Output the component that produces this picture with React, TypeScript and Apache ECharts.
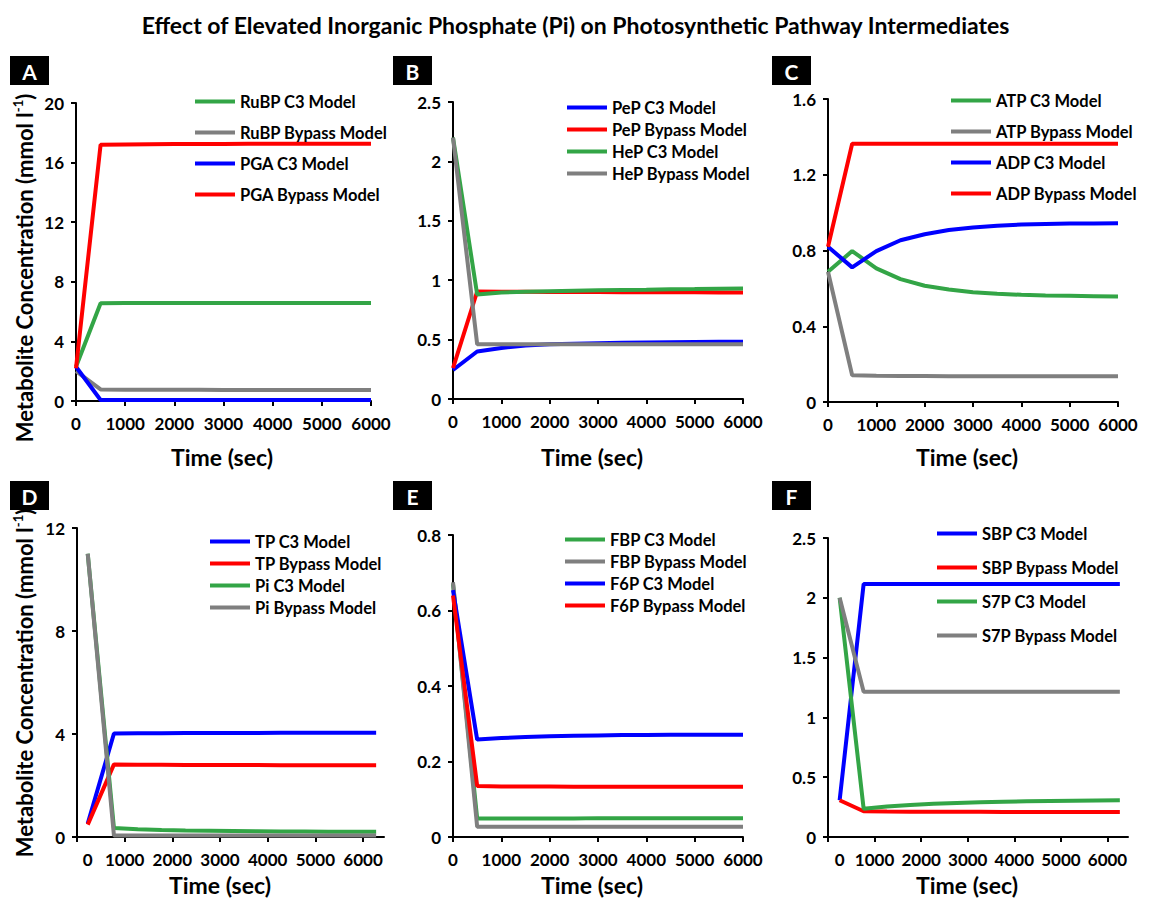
import React, { useEffect, useRef } from "react";
import * as echarts from "echarts";

// ---------- data ----------
const T = [0, 500, 1000, 1500, 2000, 2500, 3000, 3500, 4000, 4500, 5000, 5500, 6000];
const TD = [225, 775, 1275, 1775, 2275, 2775, 3275, 3775, 4275, 4775, 5275, 5775, 6275];
const TF = [250, 765, 1265, 1765, 2265, 2765, 3265, 3765, 4265, 4765, 5265, 5765, 6265];

const xTicks = [0, 1000, 2000, 3000, 4000, 5000, 6000];
const xLabelsD = [225, 1000, 2000, 3000, 4000, 5000, 6000];
const xLabelsF = [250, 1000, 2000, 3000, 4000, 5000, 6000];

// A
const rubpC3 = [2.3, 6.56, 6.57, 6.57, 6.57, 6.58, 6.58, 6.58, 6.58, 6.58, 6.58, 6.58, 6.58];
const rubpBypass = [2.0, 0.78, 0.76, 0.75, 0.75, 0.75, 0.74, 0.74, 0.74, 0.74, 0.74, 0.74, 0.74];
const pgaC3 = [2.3, 0.07, 0.07, 0.07, 0.07, 0.07, 0.07, 0.07, 0.07, 0.07, 0.07, 0.07, 0.07];
const pgaBypass = [2.2, 17.2, 17.22, 17.23, 17.24, 17.25, 17.25, 17.26, 17.26, 17.27, 17.27, 17.27, 17.27];
// B
const pepC3 = [0.244, 0.4, 0.43, 0.45, 0.46, 0.465, 0.47, 0.473, 0.476, 0.478, 0.48, 0.481, 0.482];
const pepBypass = [0.26, 0.905, 0.903, 0.902, 0.901, 0.9, 0.9, 0.899, 0.899, 0.898, 0.898, 0.897, 0.897];
const hepC3 = [2.2, 0.88, 0.897, 0.903, 0.908, 0.912, 0.916, 0.918, 0.92, 0.923, 0.925, 0.928, 0.93];
const hepBypass = [2.2, 0.46, 0.46, 0.46, 0.46, 0.46, 0.46, 0.46, 0.46, 0.46, 0.46, 0.46, 0.46];
// C
const atpC3 = [0.688, 0.797, 0.706, 0.649, 0.614, 0.594, 0.58, 0.572, 0.566, 0.563, 0.561, 0.559, 0.557];
const atpBypass = [0.688, 0.141, 0.138, 0.137, 0.137, 0.136, 0.136, 0.136, 0.136, 0.136, 0.136, 0.136, 0.136];
const adpC3 = [0.82, 0.711, 0.797, 0.854, 0.886, 0.908, 0.922, 0.931, 0.937, 0.94, 0.942, 0.943, 0.944];
const adpBypass = [0.82, 1.364, 1.364, 1.364, 1.364, 1.364, 1.364, 1.364, 1.364, 1.364, 1.364, 1.364, 1.364];
// D
const tpC3 = [0.52, 4.02, 4.03, 4.03, 4.04, 4.04, 4.04, 4.04, 4.05, 4.05, 4.05, 4.05, 4.05];
const tpBypass = [0.48, 2.82, 2.81, 2.81, 2.8, 2.8, 2.8, 2.8, 2.79, 2.79, 2.79, 2.79, 2.79];
const piC3 = [11.0, 0.35, 0.3, 0.27, 0.25, 0.24, 0.23, 0.22, 0.21, 0.21, 0.2, 0.2, 0.2];
const piBypass = [11.0, 0.06, 0.06, 0.06, 0.06, 0.06, 0.06, 0.06, 0.06, 0.06, 0.06, 0.06, 0.06];
// E
const fbpC3 = [0.67, 0.049, 0.049, 0.049, 0.049, 0.049, 0.05, 0.05, 0.05, 0.05, 0.05, 0.05, 0.05];
const fbpBypass = [0.675, 0.027, 0.027, 0.027, 0.027, 0.027, 0.027, 0.027, 0.027, 0.027, 0.027, 0.027, 0.027];
const f6pC3 = [0.654, 0.258, 0.262, 0.265, 0.267, 0.268, 0.269, 0.27, 0.27, 0.271, 0.271, 0.271, 0.271];
const f6pBypass = [0.64, 0.135, 0.134, 0.134, 0.134, 0.133, 0.133, 0.133, 0.133, 0.133, 0.133, 0.133, 0.133];
// F
const sbpC3 = [0.307, 2.115, 2.115, 2.115, 2.115, 2.115, 2.115, 2.115, 2.115, 2.115, 2.115, 2.115, 2.115];
const sbpBypass = [0.307, 0.215, 0.213, 0.212, 0.212, 0.211, 0.211, 0.21, 0.21, 0.21, 0.21, 0.21, 0.21];
const s7pC3 = [2.0, 0.237, 0.255, 0.268, 0.278, 0.285, 0.291, 0.295, 0.298, 0.301, 0.303, 0.305, 0.307];
const s7pBypass = [2.0, 1.215, 1.215, 1.215, 1.215, 1.215, 1.215, 1.215, 1.215, 1.215, 1.215, 1.215, 1.215];

const GREEN = "#33a546";
const GRAY = "#7f7f7f";
const BLUE = "#0000ff";
const RED = "#ff0000";
const FONT = "Lato";

type S = { name: string; values: number[]; color: string };
type Panel = {
  letter: string;
  grid: { left: number; top: number; width: number; height: number };
  xMax: number;
  xTimes: number[];
  xLabelVals?: number[];
  yMax: number;
  yInterval: number;
  legend: { left: number; top: number; gap: number };
  box: { x: number; y: number };
  xTitle: { x: number; y: number };
  series: S[];
};

const panels: Panel[] = [
  {
    letter: "A",
    grid: { left: 76, top: 103, width: 295, height: 298 },
    xMax: 6000, xTimes: T, yMax: 20, yInterval: 4,
    legend: { left: 195, top: 93, gap: 14 },
    box: { x: 10, y: 56 }, xTitle: { x: 222, y: 457 },
    series: [
      { name: "RuBP C3 Model", values: rubpC3, color: GREEN },
      { name: "RuBP Bypass Model", values: rubpBypass, color: GRAY },
      { name: "PGA C3 Model", values: pgaC3, color: BLUE },
      { name: "PGA Bypass Model", values: pgaBypass, color: RED },
    ],
  },
  {
    letter: "B",
    grid: { left: 453, top: 102, width: 290, height: 297 },
    xMax: 6000, xTimes: T, yMax: 2.5, yInterval: 0.5,
    legend: { left: 567, top: 99, gap: 5 },
    box: { x: 393, y: 56 }, xTitle: { x: 592, y: 457 },
    series: [
      { name: "PeP C3 Model", values: pepC3, color: BLUE },
      { name: "PeP Bypass Model", values: pepBypass, color: RED },
      { name: "HeP C3 Model", values: hepC3, color: GREEN },
      { name: "HeP Bypass Model", values: hepBypass, color: GRAY },
    ],
  },
  {
    letter: "C",
    grid: { left: 828, top: 99, width: 290, height: 303 },
    xMax: 6000, xTimes: T, yMax: 1.6, yInterval: 0.4,
    legend: { left: 951, top: 92, gap: 14 },
    box: { x: 772, y: 56 }, xTitle: { x: 967, y: 457 },
    series: [
      { name: "ATP C3 Model", values: atpC3, color: GREEN },
      { name: "ATP Bypass Model", values: atpBypass, color: GRAY },
      { name: "ADP C3 Model", values: adpC3, color: BLUE },
      { name: "ADP Bypass Model", values: adpBypass, color: RED },
    ],
  },
  {
    letter: "D",
    grid: { left: 77, top: 528, width: 307, height: 309 },
    xMax: 6440, xTimes: TD, xLabelVals: xLabelsD, yMax: 12, yInterval: 4,
    legend: { left: 210, top: 533, gap: 5 },
    box: { x: 10, y: 481 }, xTitle: { x: 220, y: 885 },
    series: [
      { name: "TP C3 Model", values: tpC3, color: BLUE },
      { name: "TP Bypass Model", values: tpBypass, color: RED },
      { name: "Pi C3 Model", values: piC3, color: GREEN },
      { name: "Pi Bypass Model", values: piBypass, color: GRAY },
    ],
  },
  {
    letter: "E",
    grid: { left: 453, top: 535, width: 290, height: 302 },
    xMax: 6000, xTimes: T, yMax: 0.8, yInterval: 0.2,
    legend: { left: 565, top: 531, gap: 5 },
    box: { x: 393, y: 481 }, xTitle: { x: 592, y: 885 },
    series: [
      { name: "FBP C3 Model", values: fbpC3, color: GREEN },
      { name: "FBP Bypass Model", values: fbpBypass, color: GRAY },
      { name: "F6P C3 Model", values: f6pC3, color: BLUE },
      { name: "F6P Bypass Model", values: f6pBypass, color: RED },
    ],
  },
  {
    letter: "F",
    grid: { left: 828, top: 538, width: 300, height: 299 },
    xMax: 6440, xTimes: TF, xLabelVals: xLabelsF, yMax: 2.5, yInterval: 0.5,
    legend: { left: 937, top: 525, gap: 17 },
    box: { x: 772, y: 481 }, xTitle: { x: 967, y: 885 },
    series: [
      { name: "SBP C3 Model", values: sbpC3, color: BLUE },
      { name: "SBP Bypass Model", values: sbpBypass, color: RED },
      { name: "S7P C3 Model", values: s7pC3, color: GREEN },
      { name: "S7P Bypass Model", values: s7pBypass, color: GRAY },
    ],
  },
];

function buildOption() {
  const axisLine = { show: true, lineStyle: { color: "#000", width: 2 } };
  const grids: any[] = [];
  const xAxes: any[] = [];
  const yAxes: any[] = [];
  const legends: any[] = [];
  const series: any[] = [];
  const graphics: any[] = [];

  panels.forEach((p, i) => {
    grids.push({ ...p.grid, containLabel: false, outerBoundsMode: "none" });
    const custom = !!p.xLabelVals;
    xAxes.push({
      type: "value",
      gridIndex: i,
      min: 0,
      max: p.xMax,
      interval: custom ? undefined : 1000,
      splitLine: { show: false },
      axisLine: { ...axisLine, onZero: false },
      axisTick: custom
        ? { show: true, length: 5, lineStyle: { color: "#000", width: 2 }, customValues: xTicks }
        : { show: true, length: 5, lineStyle: { color: "#000", width: 2 } },
      axisLabel: {
        color: "#000",
        fontFamily: FONT,
        fontWeight: "bold",
        fontSize: 17,
        margin: 14,
        showMaxLabel: true,
        formatter: (v: number) => (v < 500 ? "0" : String(v)),
        ...(custom ? { customValues: p.xLabelVals } : {}),
      },
    });
    yAxes.push({
      type: "value",
      gridIndex: i,
      min: 0,
      max: p.yMax,
      interval: p.yInterval,
      splitLine: { show: false },
      axisLine,
      axisTick: { show: true, length: 5, lineStyle: { color: "#000", width: 2 } },
      axisLabel: { color: "#000", fontFamily: FONT, fontWeight: "bold", fontSize: 17, margin: 12 },
    });
    legends.push({
      orient: "vertical",
      left: p.legend.left,
      top: p.legend.top,
      padding: 0,
      itemGap: p.legend.gap,
      itemWidth: 40,
      itemHeight: 4,
      icon: "rect",
      selectedMode: false,
      data: p.series.map((s) => s.name),
      textStyle: { color: "#000", fontFamily: FONT, fontWeight: "bold", fontSize: 16.5, lineHeight: 16 },
    });
    p.series.forEach((s) => {
      series.push({
        type: "line",
        name: s.name,
        xAxisIndex: i,
        yAxisIndex: i,
        data: p.xTimes.map((t, k) => [t, s.values[k]]),
        symbol: "none",
        lineStyle: { color: s.color, width: 4 },
        itemStyle: { color: s.color },
      });
    });
    graphics.push({
      type: "rect",
      shape: { x: p.box.x, y: p.box.y, width: 39, height: 29 },
      style: { fill: "#000" },
    });
    graphics.push({
      type: "text",
      x: p.box.x + 19.5,
      y: p.box.y + 15,
      style: {
        text: p.letter,
        fill: "#fff",
        font: `bold 21px ${FONT}`,
        align: "center",
        verticalAlign: "middle",
      },
    });
    graphics.push({
      type: "text",
      x: p.xTitle.x,
      y: p.xTitle.y,
      style: {
        text: "Time (sec)",
        fill: "#000",
        font: `bold 23px ${FONT}`,
        align: "center",
        verticalAlign: "middle",
      },
    });
  });

  [268, 683].forEach((cy) => {
    graphics.push({
      type: "text",
      x: 24,
      y: cy,
      rotation: Math.PI / 2,
      style: {
        text: "{a|Metabolite Concentration (mmol l}{s|-1}{a|)}",
        align: "center",
        verticalAlign: "middle",
        rich: {
          a: { fontFamily: FONT, fontWeight: "bold", fontSize: 22, fill: "#000", color: "#000", lineHeight: 26 },
          s: { fontFamily: FONT, fontWeight: "bold", fontSize: 13, fill: "#000", color: "#000", verticalAlign: "top", lineHeight: 26 },
        },
      },
    });
  });

  return {
    animation: false,
    backgroundColor: "#fff",
    title: {
      text: "Effect of Elevated Inorganic Phosphate (Pi) on Photosynthetic Pathway Intermediates",
      left: "center",
      top: 8,
      textStyle: { fontFamily: FONT, fontWeight: "bold", fontSize: 23, color: "#000" },
    },
    grid: grids,
    xAxis: xAxes,
    yAxis: yAxes,
    legend: legends,
    series,
    graphic: graphics,
  };
}

export default function App() {
  const ref = useRef<HTMLDivElement>(null);
  useEffect(() => {
    document.body.style.margin = "0";
    if (!ref.current) return;
    const chart = echarts.init(ref.current, undefined, { renderer: "svg" });
    chart.setOption(buildOption() as any);
    return () => chart.dispose();
  }, []);
  return <div ref={ref} style={{ width: 1151, height: 898 }} />;
}
